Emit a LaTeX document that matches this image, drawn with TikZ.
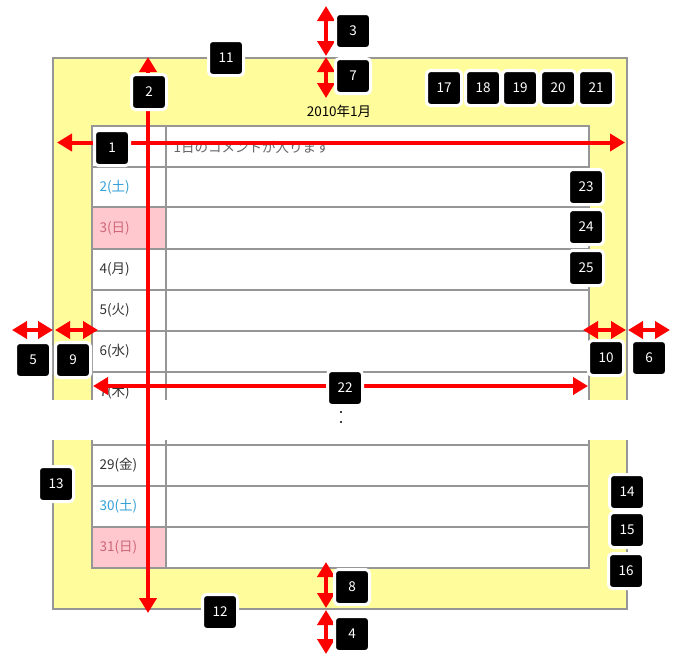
\documentclass[tikz,border=0pt]{standalone}
\usepackage{fontspec}
\setmainfont{Noto Sans CJK JP}
\usetikzlibrary{arrows.meta}
\definecolor{memo}{RGB}{255,252,155}
\definecolor{frame}{RGB}{150,150,150}
\definecolor{sat}{RGB}{51,160,214}
\definecolor{sun}{RGB}{204,102,119}
\definecolor{sunbg}{RGB}{255,200,207}
\begin{document}
\begin{tikzpicture}[x=1pt, y=-1pt, every node/.style={font=\fontsize{13.5}{15}\selectfont},
	dim/.style={red, line width=4pt, {Triangle[width=17pt,length=15pt]}-{Triangle[width=17pt,length=15pt]}},
	tag/.style={fill=black, draw=white, line width=3pt, rounded corners=4pt, minimum size=35pt, inner sep=0pt, text=white, font=\fontsize{13.5}{15}\selectfont},
	day/.style={anchor=west, text=black!80}, grid/.style={frame, line width=1.2pt}]
	\useasboundingbox (0,0) rectangle (683,657);
	\begin{scope}
		\clip (0,0) rectangle (683,399);
		\draw[grid, fill=memo] (53,58) rectangle (627,420);
		\fill[white] (92,126) rectangle (589,420); \fill[sunbg] (92,207) rectangle (166,249);
		\draw[grid] (92,126) rectangle (589,420); \draw[grid] (166,126) -- (166,420);
		\foreach \y in {167,207,249,290,331,372} \draw[grid] (92,\y) -- (589,\y);
		\node (ttl) at (339,111) {2010年1月};
		\node[anchor=west, text=black!60] (c1) at (170,147) {1日のコメントが入ります};
		\node[day, text=sat] (d2) at (96,187) {2(土)}; \node[day, text=sun] (d3) at (96,228) {3(日)};
		\node[day] (d4) at (96,269.5) {4(月)}; \node[day] (d5) at (96,310.5) {5(火)};
		\node[day] (d6) at (96,351.5) {6(水)}; \node[day] (d7) at (96,392.5) {7(木)};
	\end{scope}
	\begin{scope}
		\clip (0,440) rectangle (683,657);
		\draw[grid, fill=memo] (53,420) rectangle (627,609);
		\fill[white] (92,420) rectangle (589,568); \fill[sunbg] (92,527) rectangle (166,568);
		\draw[grid] (92,420) rectangle (589,568); \draw[grid] (166,420) -- (166,568);
		\foreach \y in {445,486,527} \draw[grid] (92,\y) -- (589,\y);
		\node[day] (d29) at (96,465.5) {29(金)}; \node[day, text=sat] (d30) at (96,506.5) {30(土)};
		\node[day, text=sun] (d31) at (96,547.5) {31(日)};
	\end{scope}
	\fill (341,412) circle (1.2); \fill (341,422) circle (1.2);
	\coordinate (h1w) at (57,142.5); \coordinate (h1e) at (625,142.5);
	\coordinate (v2n) at (148,57); \coordinate (v2s) at (148,613);
	\coordinate (v3n) at (326,6); \coordinate (v3s) at (326,56);
	\coordinate (v7n) at (326,57); \coordinate (v7s) at (326,98);
	\coordinate (v8n) at (326,562); \coordinate (v8s) at (326,608);
	\coordinate (v4n) at (326,610); \coordinate (v4s) at (326,654);
	\coordinate (h5w) at (12,330); \coordinate (h5e) at (53,330);
	\coordinate (h9w) at (55,330); \coordinate (h9e) at (98,330);
	\coordinate (h10w) at (583,330); \coordinate (h10e) at (626,330);
	\coordinate (h6w) at (628,330); \coordinate (h6e) at (670,330);
	\coordinate (h22w) at (93,386); \coordinate (h22e) at (588,386);
	\draw[dim] (h1w) -- (h1e); \draw[dim] (v2n) -- (v2s);
	\draw[dim] (v3n) -- (v3s); \draw[dim] (v7n) -- (v7s);
	\draw[dim] (v8n) -- (v8s); \draw[dim] (v4n) -- (v4s);
	\draw[dim] (h5w) -- (h5e); \draw[dim] (h9w) -- (h9e);
	\draw[dim] (h10w) -- (h10e); \draw[dim] (h6w) -- (h6e);
	\draw[dim] (h22w) -- (h22e);
	\node[tag] (b1) at (112,148) {1}; \node[tag] (b2) at (149,92) {2}; \node[tag] (b3) at (353,31) {3};
	\node[tag] (b4) at (352,634) {4}; \node[tag] (b5) at (33,360) {5}; \node[tag] (b6) at (649,358) {6};
	\node[tag] (b7) at (353,76) {7}; \node[tag] (b8) at (352,587) {8}; \node[tag] (b9) at (73,360) {9};
	\node[tag] (b10) at (606,358) {10}; \node[tag] (b11) at (226,58) {11}; \node[tag] (b12) at (220,612) {12};
	\node[tag] (b13) at (56,484) {13}; \node[tag] (b14) at (627,492) {14}; \node[tag] (b15) at (627,530) {15};
	\node[tag] (b16) at (626,571) {16}; \node[tag] (b22) at (345,388) {22};
	\foreach \n/\x in {17/444,18/483,19/520,20/558,21/596} \node[tag] (b\n) at (\x,88) {\n};
	\foreach \n/\y in {23/187,24/227,25/268} \node[tag] (b\n) at (586,\y) {\n};
\end{tikzpicture}
\end{document}
